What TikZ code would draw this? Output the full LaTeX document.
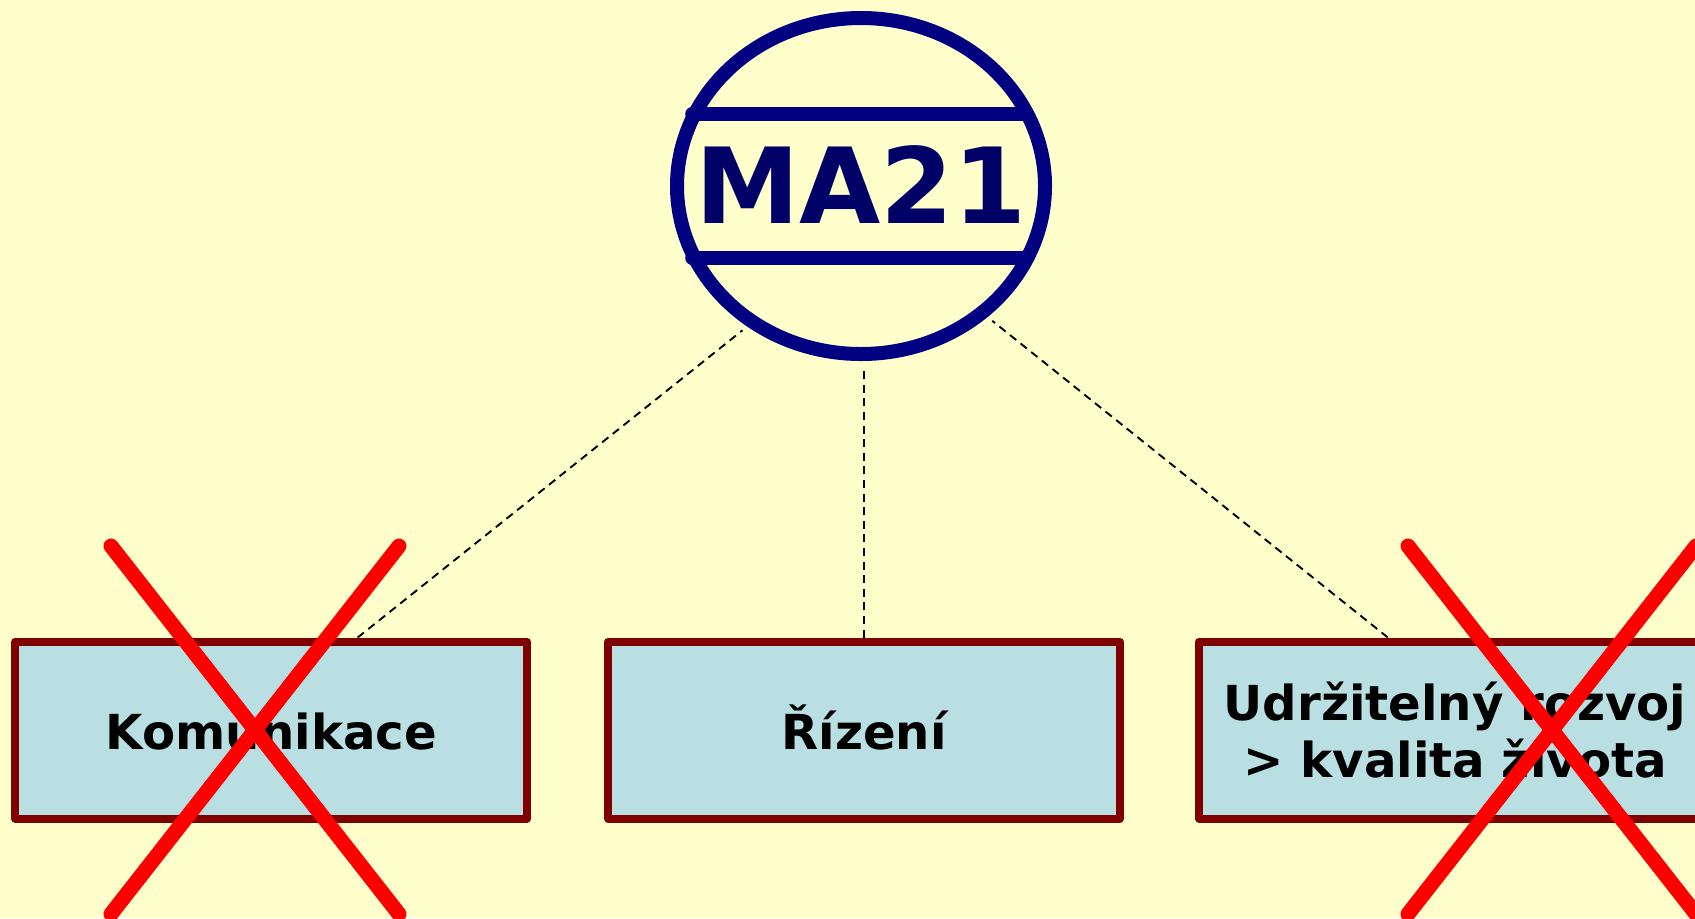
\documentclass[tikz,border=0pt]{standalone}
\usepackage{fontspec}
\setmainfont{DejaVu Sans}
\usetikzlibrary{shapes.geometric}
\definecolor{bgc}{HTML}{FFFFCC}
\definecolor{navyc}{HTML}{000080}
\definecolor{navyt}{HTML}{000066}
\definecolor{boxc}{HTML}{800000}
\definecolor{fillc}{HTML}{B9DFE3}
\tikzset{
  boxstyle/.style={draw=boxc,fill=fillc,line width=4pt,line join=round,rectangle,inner sep=0pt,
    minimum height=88.5pt,minimum width=256pt,align=center,font=\fontsize{24.1}{28.8}\selectfont\bfseries,text=black},
  oneline/.style={text height=19pt,text depth=0pt},
  linkstyle/.style={draw=black,line width=0.95pt,dash pattern=on 4pt off 2.8pt},
  crossstyle/.style={draw=red,line width=7.5pt,line cap=round},
  barstyle/.style={draw=navyc,line width=6.8pt,line cap=round}
}
\begin{document}
\begin{tikzpicture}[x=0.5pt,y=-0.5pt]
\useasboundingbox[fill=bgc] (0,0) rectangle (1695,918);
\node[ellipse,draw=navyc,line width=7pt,inner sep=0pt,minimum width=184pt,minimum height=168pt] (ma) at (861,186) {};
\node[anchor=base,inner sep=0pt,text=navyt,font=\fontsize{52.5}{60}\selectfont\bfseries] (malabel) at (861,223.3) {MA21};
\coordinate (b1l) at (692,114); \coordinate (b1r) at (1027,114);
\coordinate (b2l) at (692,258); \coordinate (b2r) at (1027,258);
\draw[barstyle] (b1l) -- (b1r);
\draw[barstyle] (b2l) -- (b2r);
\node[boxstyle,oneline] (kom) at (271.4,730) {Komunikace};
\node[boxstyle,oneline] (riz) at (864,730) {Řízení};
\node[boxstyle] (udr) at (1455,730) {Udržitelný rozvoj\\> kvalita života};
\draw[linkstyle,shorten >=3pt] (kom.47.8) -- (ma.-129.6);
\draw[linkstyle,shorten >=3pt] (riz.north) -- (ma.south -| riz.north);
\draw[linkstyle,shorten >=3pt] (udr.126.2) -- (ma.-46.1);
\coordinate (x1a) at (111,546); \coordinate (x1b) at (399,914);
\coordinate (x1c) at (399,546); \coordinate (x1d) at (111,914);
\coordinate (x2a) at (1408,546); \coordinate (x2b) at (1696,914);
\coordinate (x2c) at (1696,546); \coordinate (x2d) at (1408,914);
\draw[crossstyle] (x1a) -- (x1b);
\draw[crossstyle] (x1c) -- (x1d);
\draw[crossstyle] (x2a) -- (x2b);
\draw[crossstyle] (x2c) -- (x2d);
\end{tikzpicture}
\end{document}
